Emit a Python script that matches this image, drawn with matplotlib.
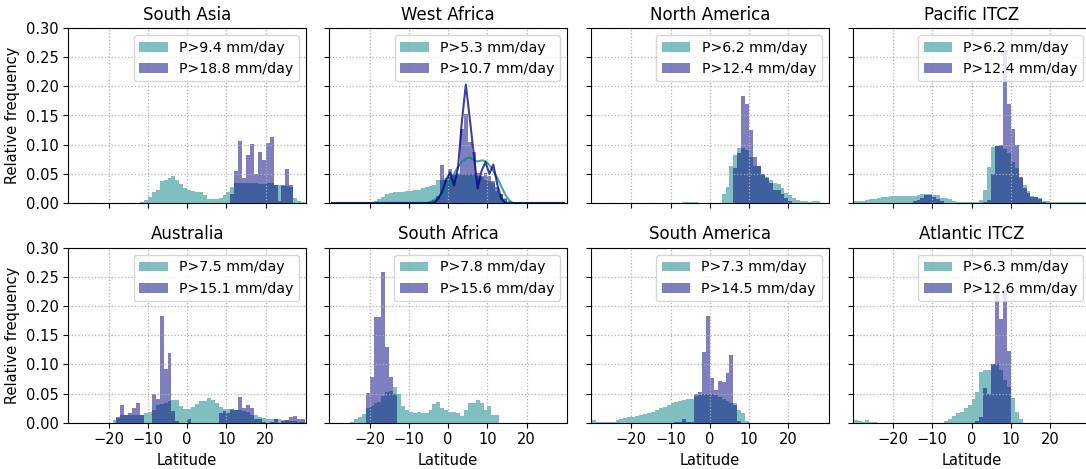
import numpy as np
import matplotlib
matplotlib.use('Agg')
import matplotlib.pyplot as plt

# ---------------- data ----------------
lat_edges = np.arange(-30, 31, 1)
lat_centers = lat_edges[:-1] + 0.5

regions = ['South Asia', 'West Africa', 'North America', 'Pacific ITCZ',
           'Australia', 'South Africa', 'South America', 'Atlantic ITCZ']
thr_low = [9.4, 5.3, 6.2, 6.2, 7.5, 7.8, 7.3, 6.3]
thr_high = [18.8, 10.7, 12.4, 12.4, 15.1, 15.6, 14.5, 12.6]

# relative frequency per 1-degree latitude bin: (first bin's lower edge, values)
sa_low_start = -12
sa_low = [0.002, 0.005, 0.011, 0.018, 0.022, 0.037, 0.040, 0.042, 0.046, 0.039,
          0.032, 0.026, 0.022, 0.020, 0.019, 0.018, 0.014, 0.006, 0.007, 0.007,
          0.009, 0.014, 0.018, 0.027, 0.035, 0.035, 0.035, 0.035, 0.035, 0.035,
          0.032, 0.033, 0.034, 0.034, 0.031, 0.030, 0.029, 0.029, 0.028, 0.009,
          0.004, 0.001]
sa_high_start = 11
sa_high = [0.015, 0.054, 0.107, 0.043, 0.083, 0.101, 0.049, 0.088, 0.073, 0.102,
           0.113, 0.030, 0.004, 0.030, 0.058, 0.030]

wa_low_start = -20
wa_low = [0.001, 0.003, 0.006, 0.010, 0.015, 0.017, 0.018, 0.019, 0.019, 0.020,
          0.021, 0.022, 0.023, 0.025, 0.027, 0.029, 0.031, 0.039, 0.040, 0.042,
          0.045, 0.050, 0.052, 0.050, 0.050, 0.050, 0.050, 0.047, 0.044, 0.040,
          0.038, 0.035, 0.020, 0.015, 0.008, 0.003]
wa_high_start = -4
wa_high = [0.005, 0.012, 0.065, 0.040, 0.059, 0.048, 0.050, 0.127, 0.153, 0.105,
           0.087, 0.052, 0.047, 0.052, 0.046, 0.038, 0.028, 0.016, 0.006]
# West Africa reference curves (values at bin centres)
wa_curve_low_start = -6
wa_curve_low = [0.0, 0.002, 0.005, 0.010, 0.016, 0.026, 0.037, 0.050, 0.062, 0.071,
                0.076, 0.078, 0.074, 0.071, 0.073, 0.072, 0.065, 0.055, 0.043, 0.029,
                0.015, 0.005, 0.0]
wa_curve_high_start = -4
wa_curve_high = [0.0, 0.008, 0.020, 0.040, 0.052, 0.030, 0.060, 0.140, 0.203, 0.145,
                 0.085, 0.025, 0.055, 0.070, 0.050, 0.066, 0.032, 0.008, 0.0]

na_low_start = -7
na_low = [0.002, 0.002, 0.002, 0.002, 0, 0, 0, 0, 0, 0,
          0.015, 0.027, 0.063, 0.083, 0.095, 0.095, 0.090, 0.078, 0.064, 0.063,
          0.050, 0.045, 0.039, 0.034, 0.033, 0.025, 0.017, 0.013, 0.009, 0.005,
          0.003, 0.003, 0.001, 0.003, 0.003]
na_high_start = 6
na_high = [0.060, 0.085, 0.183, 0.170, 0.125, 0.078, 0.064, 0.050, 0.042, 0.035,
           0.022, 0.022, 0.015, 0.009, 0.004]

pac_low_start = -30
pac_low = [0.003, 0.003, 0.004, 0.005, 0.006, 0.007, 0.008, 0.010, 0.011, 0.012,
           0.012, 0.012, 0.012, 0.012, 0.012, 0.012, 0.014, 0.015, 0.015, 0.015,
           0.013, 0.013, 0.009, 0.009, 0.006, 0.004, 0.002, 0.002, 0.001, 0.001,
           0.001, 0.002, 0.005, 0.022, 0.062, 0.096, 0.098, 0.098, 0.092, 0.085,
           0.070, 0.060, 0.042, 0.030, 0.020, 0.012, 0.011, 0.008, 0.004, 0.003,
           0.002, 0.002, 0.001, 0.001, 0.001, 0.001, 0.001, 0.001, 0.001, 0.001]
pac_high_start = -15
pac_high = [0.004, 0.005, 0.008, 0.014, 0.013, 0.010, 0.006, 0.003, 0, 0,
            0, 0, 0, 0, 0, 0, 0, 0, 0.002, 0.005,
            0.050, 0.098, 0.100, 0.260, 0.170, 0.126, 0.100, 0.045, 0.025, 0.017,
            0.010, 0.011, 0.006, 0.002]

au_low_start = -19
au_low = [0.004, 0.008, 0.013, 0.013, 0.013, 0.013, 0.013, 0.013, 0.016, 0.018,
          0.021, 0.030, 0.032, 0.033, 0.037, 0.039, 0.039, 0.028, 0.024, 0.024,
          0.027, 0.032, 0.037, 0.037, 0.042, 0.039, 0.033, 0.027, 0.024, 0.024,
          0.022, 0.022, 0.021, 0.020, 0.018, 0.013, 0.013, 0.010, 0.008, 0.007,
          0.006, 0.006, 0.006, 0.004, 0.004, 0.003, 0.003, 0.002, 0.002]
au_high_start = -18
au_high = [0.009, 0.030, 0.013, 0.016, 0.026, 0.033, 0.013, 0, 0, 0.050,
           0.040, 0.183, 0.092, 0.120, 0.020, 0.003, 0, 0, 0.006, 0,
           0, 0, 0, 0, 0, 0, 0.016, 0.020, 0.016, 0.023,
           0.022, 0.044, 0.026, 0.030, 0.026, 0.006, 0.006, 0.002, 0, 0.002,
           0.006, 0, 0.003, 0.004, 0.009, 0.012, 0.006, 0.006]

saf_low_start = -25
saf_low = [0.002, 0.006, 0.009, 0.015, 0.025, 0.029, 0.033, 0.035, 0.045, 0.053,
           0.054, 0.062, 0.050, 0.029, 0.022, 0.019, 0.017, 0.018, 0.017, 0.016,
           0.022, 0.032, 0.035, 0.025, 0.022, 0.019, 0.019, 0.016, 0.012, 0.021,
           0.033, 0.033, 0.039, 0.033, 0.022, 0.029, 0.013, 0.013]
saf_high_start = -21
saf_high = [0.051, 0.079, 0.182, 0.182, 0.259, 0.130, 0.079, 0.050]

sam_low_start = -30
sam_low = [0.004, 0.002, 0.002, 0.002, 0.002, 0.002, 0.004, 0.006, 0.008, 0.009,
           0.010, 0.011, 0.013, 0.015, 0.017, 0.019, 0.021, 0.025, 0.027, 0.030,
           0.033, 0.035, 0.038, 0.039, 0.040, 0.041, 0.045, 0.047, 0.049, 0.050,
           0.049, 0.047, 0.044, 0.040, 0.037, 0.034, 0.033, 0.022, 0.016, 0.003]
sam_high_start = -9
sam_high = [0.002, 0.002, 0.006, 0.002, 0.002, 0.050, 0.052, 0.122, 0.183, 0.076,
            0.056, 0.072, 0.070, 0.085, 0.116, 0.030, 0.003]

atl_low_start = -30
atl_low = [0.005, 0.003, 0.002, 0.004, 0.002, 0.001, 0, 0, 0, 0,
           0, 0, 0, 0, 0, 0, 0, 0, 0, 0,
           0, 0, 0, 0.003, 0.006, 0.012, 0.016, 0.019, 0.025, 0.030,
           0.040, 0.053, 0.087, 0.090, 0.090, 0.100, 0.100, 0.090, 0.074, 0.062,
           0.042, 0.019, 0.007]
atl_high_start = 1
atl_high = [0.003, 0.010, 0.060, 0.050, 0.100, 0.225, 0.177, 0.227, 0.123]

low_series = [(sa_low_start, sa_low), (wa_low_start, wa_low), (na_low_start, na_low),
              (pac_low_start, pac_low), (au_low_start, au_low), (saf_low_start, saf_low),
              (sam_low_start, sam_low), (atl_low_start, atl_low)]
high_series = [(sa_high_start, sa_high), (wa_high_start, wa_high), (na_high_start, na_high),
               (pac_high_start, pac_high), (au_high_start, au_high), (saf_high_start, saf_high),
               (sam_high_start, sam_high), (atl_high_start, atl_high)]


def full(start, vals):
    arr = np.zeros(len(lat_centers))
    i = start - lat_edges[0]
    arr[i:i + len(vals)] = vals
    return arr


# ---------------- figure ----------------
W, H = 1086, 469
fig = plt.figure(figsize=(W / 100, H / 100), dpi=100)

lefts_px = [68.3, 329.3, 591.0, 852.7]
ax_w_px = 237.7
bottoms_px = [203.0, 422.7]
ax_h_px = 175.0

low_color = 'teal'
high_color = 'navy'

axes = []
for k, name in enumerate(regions):
    r, c = divmod(k, 4)
    rect = [lefts_px[c] / W, 1 - bottoms_px[r] / H, ax_w_px / W, ax_h_px / H]
    ax = fig.add_axes(rect)
    axes.append(ax)
    ls, lv = low_series[k]
    hs, hv = high_series[k]
    ax.hist(lat_centers, bins=lat_edges, weights=full(ls, lv), color=low_color,
            alpha=0.5, label=f'P>{thr_low[k]} mm/day')
    ax.hist(lat_centers, bins=lat_edges, weights=full(hs, hv), color=high_color,
            alpha=0.5, label=f'P>{thr_high[k]} mm/day')
    if name == 'West Africa':
        ax.plot(lat_centers, full(wa_curve_low_start, wa_curve_low), color='teal',
                alpha=0.7, lw=1.5)
        ax.plot(lat_centers, full(wa_curve_high_start, wa_curve_high), color='navy',
                alpha=0.75, lw=1.5)
    ax.set_xlim(-30.25, 30.25)
    ax.set_ylim(0, 0.3)
    ax.set_xticks([-20, -10, 0, 10, 20])
    ax.set_yticks(np.arange(0, 0.301, 0.05))
    ax.grid(True, linestyle=':', color='#b0b0b0', linewidth=0.9)
    ax.tick_params(labelsize=10.5)
    ax.set_title(name, fontsize=12)
    ax.legend(loc='upper right', fontsize=10.2)
    if c == 0:
        ax.set_yticklabels([f'{v:.2f}' for v in np.arange(0, 0.301, 0.05)])
        ax.set_ylabel('Relative frequency', fontsize=10.5)
    else:
        ax.set_yticklabels([])
    if r == 1:
        ax.set_xlabel('Latitude', fontsize=10.5)
    else:
        ax.set_xticklabels([])

fig.savefig('out.png', dpi=100)
